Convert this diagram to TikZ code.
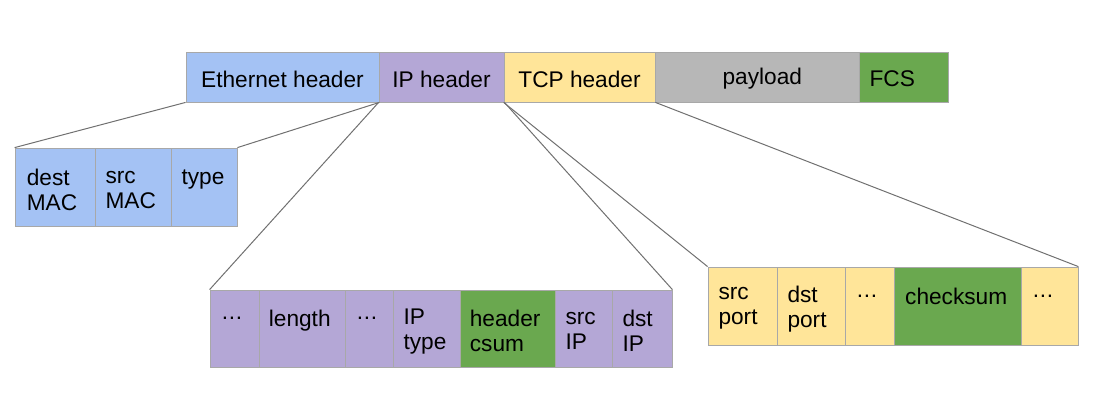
\documentclass[tikz,border=0pt]{standalone}
\usepackage{fontspec}
\setmainfont{Liberation Sans}
\usetikzlibrary{fit}
\definecolor{cblue}{HTML}{A4C2F4}
\definecolor{cpurple}{HTML}{B4A7D6}
\definecolor{cyellow}{HTML}{FFE599}
\definecolor{cgray}{HTML}{B7B7B7}
\definecolor{cgreen}{HTML}{6AA84F}
\definecolor{cborder}{HTML}{A8A8A8}
\definecolor{cline}{HTML}{707070}
\tikzset{
  box/.style={draw=cborder, line width=0.6pt, inner sep=0pt},
  txt/.style={font=\fontsize{17}{18.75}\selectfont, inner sep=0pt, align=left, text=black},
  conn/.style={draw=cline, line width=0.75pt},
}
\newcommand\dotsx{.\kern0.5pt.\kern0.5pt.}
% name, x1, x2, y1, y2, colour
\newcommand\mkcell[6]{\node[box, fill=#6, fit={(#2,#4) (#3,#5)}] (#1) {};}
\begin{document}
\begin{tikzpicture}[x=0.75pt, y=-0.75pt]
\useasboundingbox (0,0) rectangle (1100,408);
% top frame
\mkcell{eth}{186}{379}{52}{102}{cblue}
\mkcell{ip}{379}{504}{52}{102}{cpurple}
\mkcell{tcp}{504}{655}{52}{102}{cyellow}
\mkcell{pay}{655}{859}{52}{102}{cgray}
\mkcell{fcs}{859}{948}{52}{102}{cgreen}
\node[txt] (eth-t) at ([yshift=-1.5pt]eth.center) {Ethernet header};
\node[txt] (ip-t) at ([yshift=-1.5pt]ip.center) {IP header};
\node[txt] (tcp-t) at ([yshift=-1.5pt]tcp.center) {TCP header};
\node[txt] (pay-t) at ([xshift=4pt,yshift=-1.5pt]pay.center) {payload};
\node[txt, anchor=west] (fcs-t) at ([xshift=8pt,yshift=-1.5pt]fcs.west) {FCS};
% ethernet fields
\mkcell{e1}{15}{95}{148}{226}{cblue}
\mkcell{e2}{95}{171}{148}{226}{cblue}
\mkcell{e3}{171}{237}{148}{226}{cblue}
\node[txt, anchor=west] (e1-t) at ([xshift=9pt,yshift=-2pt]e1.west) {dest\\MAC};
\node[txt, anchor=west] (e2-t) at ([xshift=8pt,yshift=-2pt]e2.west) {src\\MAC};
\node[txt, anchor=west] (e3-t) at ([xshift=8pt,yshift=-2pt]e3.west) {type\\\mbox{}};
% ip fields
\mkcell{i1}{210}{259}{290}{367}{cpurple}
\mkcell{i2}{259}{345}{290}{367}{cpurple}
\mkcell{i3}{345}{393}{290}{367}{cpurple}
\mkcell{i4}{393}{460}{290}{367}{cpurple}
\mkcell{i5}{460}{555}{290}{367}{cgreen}
\mkcell{i6}{555}{612}{290}{367}{cpurple}
\mkcell{i7}{612}{672}{290}{367}{cpurple}
\node[txt, anchor=west] (i1-t) at ([xshift=9pt,yshift=-2pt]i1.west) {\dotsx\\\mbox{}};
\node[txt, anchor=west] (i2-t) at ([xshift=7.5pt,yshift=-2pt]i2.west) {length\\\mbox{}};
\node[txt, anchor=west] (i3-t) at ([xshift=9pt,yshift=-2pt]i3.west) {\dotsx\\\mbox{}};
\node[txt, anchor=west] (i4-t) at ([xshift=8pt,yshift=-2pt]i4.west) {IP\\type};
\node[txt, anchor=west] (i5-t) at ([xshift=7.5pt,yshift=-2pt]i5.west) {header\\csum};
\node[txt, anchor=west] (i6-t) at ([xshift=8pt,yshift=-2pt]i6.west) {src\\IP};
\node[txt, anchor=west] (i7-t) at ([xshift=8pt,yshift=-2pt]i7.west) {dst\\IP};
% tcp fields
\mkcell{t1}{708}{777}{267}{345}{cyellow}
\mkcell{t2}{777}{845}{267}{345}{cyellow}
\mkcell{t3}{845}{894}{267}{345}{cyellow}
\mkcell{t4}{894}{1021}{267}{345}{cgreen}
\mkcell{t5}{1021}{1078}{267}{345}{cyellow}
\node[txt, anchor=west] (t1-t) at ([xshift=8pt,yshift=-2pt]t1.west) {src\\port};
\node[txt, anchor=west] (t2-t) at ([xshift=8pt,yshift=-2pt]t2.west) {dst\\port};
\node[txt, anchor=west] (t3-t) at ([xshift=9pt,yshift=-2pt]t3.west) {\dotsx\\\mbox{}};
\node[txt, anchor=west] (t4-t) at ([xshift=8.5pt,yshift=-2pt]t4.west) {checksum\\\mbox{}};
\node[txt, anchor=west] (t5-t) at ([xshift=9pt,yshift=-2pt]t5.west) {\dotsx\\\mbox{}};
% connectors
\draw[conn] (eth.south west) -- (e1.north west);
\draw[conn] (eth.south east) -- (e3.north east);
\draw[conn] (ip.south west) -- (i1.north west);
\draw[conn] (ip.south east) -- (i7.north east);
\draw[conn] (tcp.south west) -- (t1.north west);
\draw[conn] (tcp.south east) -- (t5.north east);
\end{tikzpicture}
\end{document}
